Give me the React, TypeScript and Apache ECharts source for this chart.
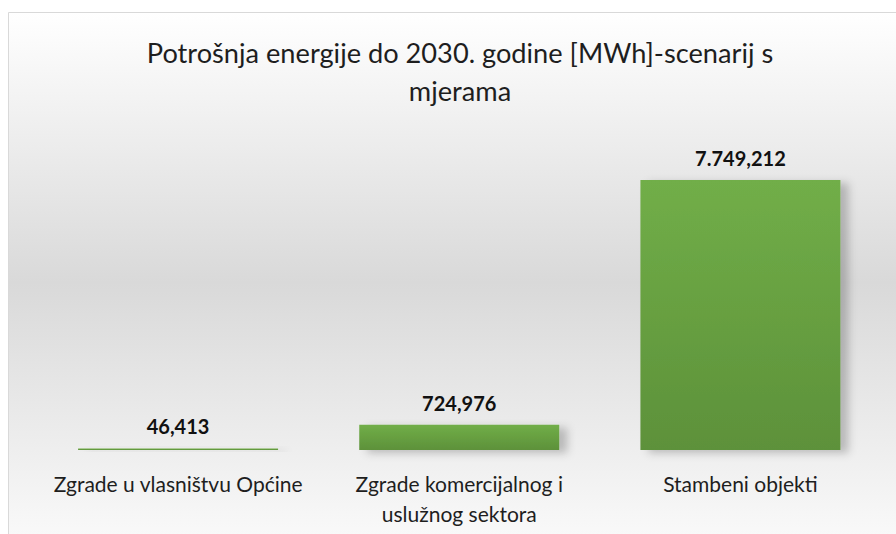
import React, { useEffect, useRef } from "react";
import * as echarts from "echarts";

const categories = [
  "Zgrade u vlasništvu Općine",
  "Zgrade komercijalnog i uslužnog sektora",
  "Stambeni objekti",
];
const values = [46.413, 724.976, 7749.212];
const titleText = "Potrošnja energije do 2030. godine [MWh]-scenarij s\nmjerama";

function fmt(v: number): string {
  const [i, d] = v.toFixed(3).split(".");
  const withDots = i.replace(/\B(?=(\d{3})+(?!\d))/g, ".");
  return withDots + "," + d;
}

export default function App() {
  const ref = useRef<HTMLDivElement>(null);
  useEffect(() => {
    if (!ref.current) return;
    const chart = echarts.init(ref.current, null, { renderer: "svg" });
    const font = "Lato, 'Open Sans', sans-serif";
    chart.setOption({
      animation: false,
      backgroundColor: "#ffffff",
      graphic: [
        {
          type: "rect",
          z: -10,
          silent: true,
          shape: { x: 8.5, y: 12.5, width: 900, height: 540 },
          style: {
            fill: new echarts.graphic.LinearGradient(0, 0, 0, 1, [
              { offset: 0, color: "#ffffff" },
              { offset: 0.5, color: "#d9d9d9" },
              { offset: 1, color: "#fbfbfb" },
            ]),
            stroke: "#d9d9d9",
            lineWidth: 1,
          },
        },
        {
          type: "text",
          silent: true,
          x: 460,
          y: 33,
          style: {
            text: titleText,
            fontFamily: font,
            fontSize: 27.2,
            fontWeight: "normal",
            fill: "#1e1e1e",
            lineHeight: 38,
            align: "center",
            verticalAlign: "top",
          },
        },
      ],
      grid: { left: 37.5, right: 15, top: 136.4, bottom: 84, containLabel: false },
      xAxis: {
        type: "category",
        data: categories,
        axisLine: { show: false },
        axisTick: { show: false },
        axisLabel: {
          interval: 0,
          margin: 18,
          fontFamily: font,
          fontSize: 21,
          lineHeight: 30,
          color: "#1e1e1e",
          formatter: (v: string) => v.replace("komercijalnog i ", "komercijalnog i\n"),
        },
      },
      yAxis: {
        type: "value",
        min: 0,
        max: 9000,
        show: false,
        splitLine: { show: false },
      },
      series: [
        {
          type: "bar",
          data: values,
          barWidth: 200,
          itemStyle: {
            color: new echarts.graphic.LinearGradient(0, 0, 0, 1, [
              { offset: 0, color: "#71ae48" },
              { offset: 1, color: "#5d913a" },
            ]),
            shadowColor: "rgba(0,0,0,0.22)",
            shadowBlur: 8,
            shadowOffsetX: 8,
            shadowOffsetY: 3,
          },
          label: {
            show: true,
            position: "top",
            distance: 12,
            fontFamily: font,
            fontSize: 20,
            fontWeight: "bold",
            color: "#111111",
            formatter: (p: any) => fmt(p.value),
          },
        },
      ],
    });
    return () => chart.dispose();
  }, []);
  return (
    <div
      ref={ref}
      style={{ position: "fixed", left: 0, top: 0, width: 896, height: 534 }}
    />
  );
}
